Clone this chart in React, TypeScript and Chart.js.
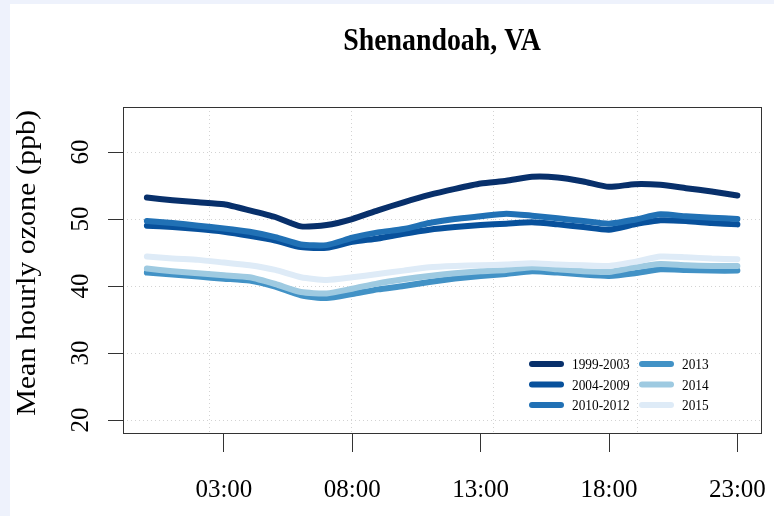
import React, { useEffect, useRef } from "react";
import { Chart, registerables } from "chart.js";

Chart.register(...registerables);

// ---- data ----
const HOURS = [0, 1, 2, 3, 4, 5, 6, 7, 8, 9, 10, 11, 12, 13, 14, 15, 16, 17, 18, 19, 20, 21, 22, 23];
const SERIES_LABELS = ["1999-2003", "2004-2009", "2010-2012", "2013", "2014", "2015"];
const SERIES_COLORS = ["#08306b", "#08519c", "#2171b5", "#4292c6", "#9ecae1", "#deebf7"];

const S_1999_2003 = [53.2, 52.8, 52.5, 52.2, 51.3, 50.3, 48.9, 49.1, 50.0, 51.3, 52.5, 53.6, 54.5, 55.3, 55.7, 56.3, 56.2, 55.6, 54.8, 55.2, 55.1, 54.6, 54.1, 53.5];
const S_2004_2009 = [49.0, 48.8, 48.5, 48.1, 47.5, 46.8, 45.8, 45.7, 46.6, 47.1, 47.8, 48.4, 48.8, 49.1, 49.3, 49.5, 49.2, 48.8, 48.4, 49.2, 49.8, 49.7, 49.4, 49.2];
const S_2010_2012 = [49.7, 49.4, 49.0, 48.6, 48.1, 47.3, 46.2, 46.1, 47.2, 48.0, 48.5, 49.4, 50.0, 50.4, 50.8, 50.5, 50.1, 49.7, 49.3, 49.9, 50.7, 50.4, 50.2, 50.0];
const S_2013 = [42.0, 41.7, 41.4, 41.1, 40.8, 39.9, 38.6, 38.2, 38.8, 39.5, 40.0, 40.6, 41.1, 41.5, 41.8, 42.2, 42.0, 41.7, 41.5, 41.9, 42.5, 42.4, 42.3, 42.3];
const S_2014 = [42.6, 42.2, 41.9, 41.6, 41.3, 40.3, 39.1, 38.9, 39.6, 40.4, 41.0, 41.5, 41.9, 42.2, 42.4, 42.8, 42.5, 42.2, 42.1, 42.8, 43.3, 43.1, 43.0, 43.0];
const S_2015 = [44.4, 44.1, 43.9, 43.5, 43.1, 42.4, 41.3, 40.9, 41.3, 41.8, 42.3, 42.8, 43.0, 43.1, 43.2, 43.4, 43.2, 43.1, 43.0, 43.6, 44.4, 44.3, 44.1, 44.0];
const SERIES_VALUES = [S_1999_2003, S_2004_2009, S_2010_2012, S_2013, S_2014, S_2015];

const X_TICKS = [3, 8, 13, 18, 23];
const Y_TICKS = [20, 30, 40, 50, 60];
const X_GRID = [2.42, 7.95, 13.5, 19.09];

const TITLE = "Shenandoah, VA";
const Y_TITLE = "Mean hourly ozone (ppb)";
const SERIF = "'Liberation Serif', 'Times New Roman', serif";

const frameLegendPlugin = {
  id: "frameLegend",
  beforeDatasetsDraw(chart: any) {
    const { ctx, chartArea: a, scales } = chart;
    ctx.save();
    ctx.strokeStyle = "#d3d3d3";
    ctx.lineWidth = 1;
    ctx.setLineDash([1, 3]);
    X_GRID.forEach((g) => {
      const px = Math.round(scales.x.getPixelForValue(g)) + 0.5;
      ctx.beginPath();
      ctx.moveTo(px, a.top);
      ctx.lineTo(px, a.bottom);
      ctx.stroke();
    });
    ctx.restore();
  },
  afterDatasetsDraw(chart: any) {
    const { ctx, chartArea: a } = chart;
    ctx.save();
    ctx.strokeStyle = "#333";
    ctx.lineWidth = 1;
    ctx.strokeRect(Math.round(a.left) + 0.5, Math.round(a.top) + 0.5, Math.round(a.right - a.left), Math.round(a.bottom - a.top));

    // legend (two columns, three rows)
    const rows = [a.bottom - 69, a.bottom - 48.5, a.bottom - 28];
    const cols = [a.right - 229, a.right - 119];
    ctx.textBaseline = "middle";
    ctx.textAlign = "left";
    SERIES_LABELS.forEach((lab, i) => {
      const c = Math.floor(i / 3);
      const r = i % 3;
      const x = cols[c];
      const y = rows[r];
      ctx.strokeStyle = SERIES_COLORS[i];
      ctx.lineWidth = 6;
      ctx.lineCap = "round";
      ctx.beginPath();
      ctx.moveTo(x, y);
      ctx.lineTo(x + 29, y);
      ctx.stroke();
      ctx.save();
      ctx.translate(x + 40, y + 1);
      ctx.scale(0.86, 1);
      ctx.font = `15.5px ${SERIF}`;
      ctx.fillStyle = "#000";
      ctx.fillText(lab, 0, 0);
      ctx.restore();
    });

    // title (condensed bold serif, centered over the plot)
    ctx.save();
    ctx.translate((a.left + a.right) / 2, 38);
    ctx.scale(0.87, 1);
    ctx.font = `bold 32px ${SERIF}`;
    ctx.textAlign = "center";
    ctx.textBaseline = "middle";
    ctx.fillStyle = "#000";
    ctx.fillText(TITLE, 0, 0);
    ctx.restore();

    // y-axis title (rotated, reading upward)
    ctx.save();
    ctx.translate(18, (a.top + a.bottom) / 2 - 7);
    ctx.rotate(-Math.PI / 2);
    ctx.scale(1, 0.9);
    ctx.font = `30px ${SERIF}`;
    ctx.textAlign = "center";
    ctx.textBaseline = "middle";
    ctx.fillStyle = "#000";
    ctx.fillText(Y_TITLE, 0, 0);
    ctx.restore();
    ctx.restore();
  },
};

export default function App() {
  const canvasRef = useRef<HTMLCanvasElement | null>(null);

  useEffect(() => {
    document.body.style.margin = "0";
    document.body.style.background = "#eef2fc";
    const canvas = canvasRef.current;
    if (!canvas) return;
    const datasets = SERIES_LABELS.map((label, i) => ({
      label,
      data: HOURS.map((h, j) => ({ x: h, y: SERIES_VALUES[i][j] })),
      borderColor: SERIES_COLORS[i],
      backgroundColor: SERIES_COLORS[i],
      borderWidth: 6,
      pointRadius: 0,
      tension: 0.2,
      borderCapStyle: "round" as const,
      borderJoinStyle: "round" as const,
      fill: false,
      order: SERIES_LABELS.length - i,
    }));

    const chart = new Chart(canvas, {
      type: "line",
      data: { datasets },
      plugins: [frameLegendPlugin],
      options: {
        animation: false,
        responsive: true,
        maintainAspectRatio: false,
        layout: { padding: { left: 0, right: 13, top: 103, bottom: 0 } },
        plugins: {
          legend: { display: false },
          tooltip: { enabled: false },
          title: { display: false },
        },
        scales: {
          x: {
            type: "linear",
            min: -0.93,
            max: 23.92,
            afterBuildTicks: (scale: any) => {
              scale.ticks = X_TICKS.map((v) => ({ value: v }));
            },
            afterFit: (scale: any) => {
              scale.height = 83;
              scale.paddingLeft = 0;
              scale.paddingRight = 0;
              scale.paddingTop = 0;
              scale.paddingBottom = 0;
            },
            grid: {
              display: true,
              drawOnChartArea: false,
              drawTicks: true,
              tickLength: 19,
              tickColor: "#333",
              color: "#333",
            },
            border: { display: false },
            ticks: {
              autoSkip: false,
              maxRotation: 0,
              minRotation: 0,
              padding: 23,
              color: "#000",
              font: { family: SERIF, size: 25 },
              callback: (v: any) => `${String(v).padStart(2, "0")}:00`,
            },
          },
          y: {
            type: "linear",
            min: 18.06,
            max: 66.72,
            afterBuildTicks: (scale: any) => {
              scale.ticks = Y_TICKS.map((v) => ({ value: v }));
            },
            afterFit: (scale: any) => {
              scale.width = 113;
              scale.paddingLeft = 0;
              scale.paddingRight = 0;
              scale.paddingTop = 0;
              scale.paddingBottom = 0;
            },
            grid: {
              display: true,
              drawOnChartArea: true,
              drawTicks: true,
              tickLength: 15,
              color: "#d3d3d3",
              tickColor: "#333",
              tickBorderDash: [],
            },
            border: { display: false, dash: [1, 3] },
            ticks: {
              minRotation: 90,
              maxRotation: 90,
              crossAlign: "center",
              padding: 14,
              color: "#000",
              font: { family: SERIF, size: 25 },
              callback: (v: any) => String(v),
            },
            title: { display: false },
          },
        },
      },
    } as any);

    return () => chart.destroy();
  }, []);

  return (
    <div style={{ position: "absolute", left: 10, top: 4, width: 764, height: 512, background: "#ffffff" }}>
      <canvas ref={canvasRef} />
    </div>
  );
}
